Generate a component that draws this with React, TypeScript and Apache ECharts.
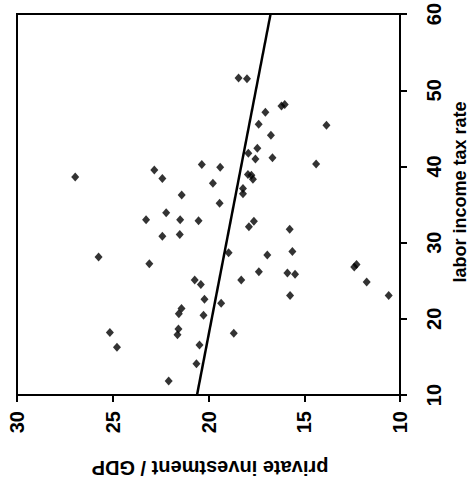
import React, { useEffect, useRef } from "react";
import * as echarts from "echarts";

const investment = [26.96, 22.83, 22.41, 20.35, 21.4, 22.21, 23.26, 21.48, 20.52, 18.43, 17.99, 16.19, 16.02, 17.03, 17.38, 13.84, 16.74, 17.92, 17.45, 17.55, 16.66, 14.38, 19.39, 19.77, 17.94, 17.76, 17.68, 18.2, 18.2, 19.42, 17.63, 17.89, 15.76, 22.41, 21.5, 25.74, 23.09, 20.72, 20.4, 20.21, 21.41, 21.55, 20.26, 21.57, 21.62, 25.15, 24.78, 20.47, 20.63, 22.08, 18.95, 16.93, 15.62, 17.37, 18.29, 15.88, 15.48, 12.39, 12.27, 11.74, 10.59, 15.74, 19.34, 18.68];
const taxRate = [38.63, 39.54, 38.42, 40.25, 36.24, 33.93, 33.02, 33.02, 32.89, 51.61, 51.51, 47.95, 48.12, 47.11, 45.55, 45.42, 44.11, 41.72, 42.38, 40.98, 41.16, 40.33, 39.9, 37.81, 38.94, 38.85, 38.33, 37.11, 36.41, 35.16, 32.81, 32.1, 31.76, 30.85, 31.06, 28.11, 27.23, 25.1, 24.49, 22.57, 21.36, 20.67, 20.48, 18.66, 17.92, 18.19, 16.27, 16.57, 14.09, 11.83, 28.67, 28.37, 28.84, 26.19, 25.1, 26.02, 25.84, 26.8, 27.14, 24.84, 23.05, 23.05, 22.05, 18.09];

const fitInvestment = [20.6, 16.76];
const fitTax = [10, 60];

const xTitle = "private investment / GDP";
const yTitle = "labor income tax rate";

const FONT = '"Liberation Sans", Arial, sans-serif';

export default function App() {
  const ref = useRef<HTMLDivElement>(null);
  useEffect(() => {
    if (!ref.current) return;
    const chart = echarts.init(ref.current, undefined, { renderer: "svg" });
    const points = investment.map((v, i) => [v, taxRate[i]]);
    const fit = fitInvestment.map((v, i) => [v, fitTax[i]]);
    chart.setOption({
      animation: false,
      backgroundColor: "#ffffff",
      grid: {
        left: 17,
        right: 72,
        top: 12,
        bottom: 94,
        show: true,
        borderColor: "#000",
        borderWidth: 2,
        backgroundColor: "transparent",
      },
      xAxis: {
        type: "value",
        min: 10,
        max: 30,
        interval: 5,
        inverse: true,
        position: "bottom",
        axisLine: { show: true, lineStyle: { color: "#000", width: 2 } },
        axisTick: { show: true, length: 7, lineStyle: { color: "#000", width: 2 } },
        axisLabel: {
          rotate: 90,
          margin: 16,
          color: "#000",
          fontSize: 20,
          fontWeight: "bold",
          fontFamily: FONT,
        },
        splitLine: { show: false },
      },
      yAxis: {
        type: "value",
        min: 10,
        max: 60,
        interval: 10,
        position: "right",
        axisLine: { show: true, lineStyle: { color: "#000", width: 2 } },
        axisTick: { show: true, length: 7, lineStyle: { color: "#000", width: 2 } },
        axisLabel: {
          rotate: 90,
          margin: 24,
          color: "#000",
          fontSize: 20,
          fontWeight: "bold",
          fontFamily: FONT,
        },
        splitLine: { show: false },
      },
      graphic: [
        {
          type: "text",
          x: 210,
          y: 468,
          rotation: Math.PI,
          style: {
            text: xTitle,
            fill: "#000",
            font: `bold 20px ${FONT}`,
            textAlign: "center",
            textVerticalAlign: "middle",
            align: "center",
            verticalAlign: "middle",
          },
        },
        {
          type: "text",
          x: 460,
          y: 192,
          rotation: Math.PI / 2,
          style: {
            text: yTitle,
            fill: "#000",
            font: `bold 18px ${FONT}`,
            textAlign: "center",
            textVerticalAlign: "middle",
            align: "center",
            verticalAlign: "middle",
          },
        },
      ],
      series: [
        {
          type: "scatter",
          data: points,
          symbol: "diamond",
          symbolSize: [8, 9],
          itemStyle: { color: "#000" },
        },
        {
          type: "line",
          data: fit,
          showSymbol: false,
          symbol: "none",
          lineStyle: { color: "#000", width: 2.5 },
        },
      ],
    });
    return () => chart.dispose();
  }, []);
  return (
    <div
      ref={ref}
      style={{ position: "fixed", left: 0, top: 0, width: 472, height: 489, background: "#fff" }}
    />
  );
}
